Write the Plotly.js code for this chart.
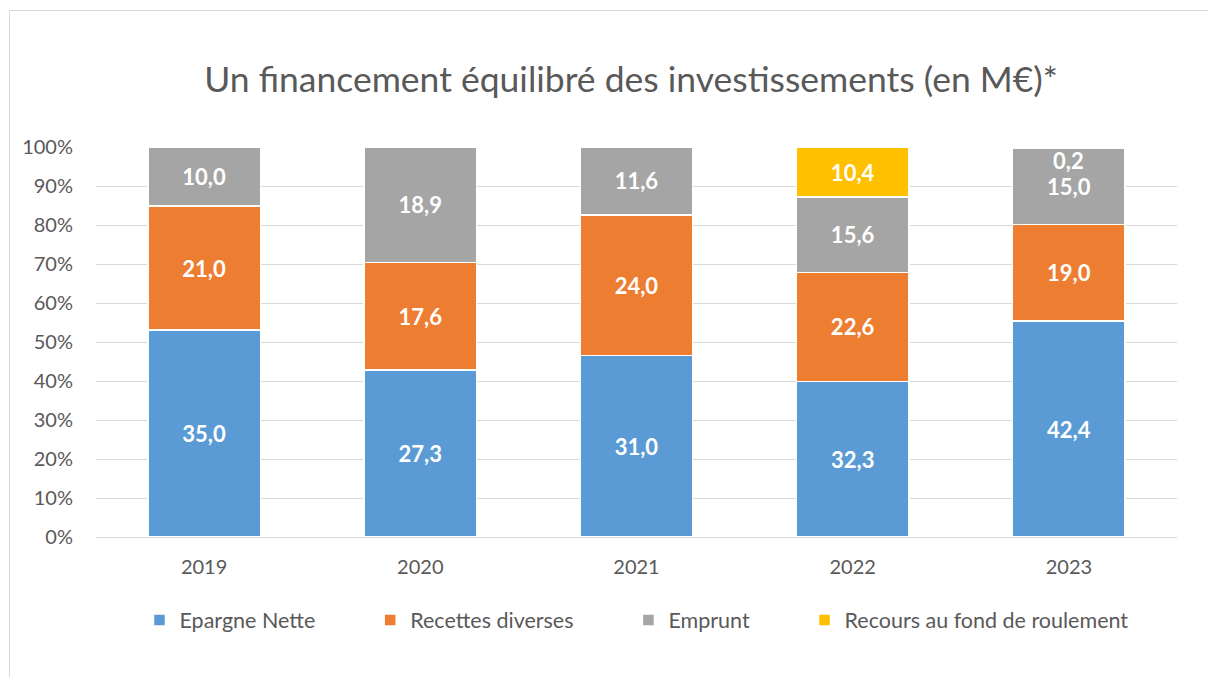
<!DOCTYPE html>
<html>
<head>
<meta charset="utf-8">
<script src="https://cdn.plot.ly/plotly-3.0.1.min.js"></script>
<style>
html,body{margin:0;padding:0;background:#fff;overflow:hidden;}
#frame{position:absolute;left:9px;top:10px;width:1300px;height:800px;border:1px solid #d9d9d9;box-sizing:border-box;}
#chart{position:absolute;left:0;top:0;width:1208px;height:677px;}
#err{position:absolute;left:20px;top:20px;color:red;font:12px monospace;white-space:pre;z-index:10}
</style>
</head>
<body>
<div id="frame"></div>
<div id="chart"></div>
<div id="err"></div>
<script>
const out = document.getElementById('err');
window.onerror = (m) => { out.textContent += 'ERR ' + m + '\n'; };

const years = ['2019', '2020', '2021', '2022', '2023'];
const epargneNette = [35.0, 27.3, 31.0, 32.3, 42.4];
const recettesDiverses = [21.0, 17.6, 24.0, 22.6, 19.0];
const emprunt = [10.0, 18.9, 11.6, 15.6, 15.0];
const recoursFondRoulement = [0, 0, 0, 10.4, 0.2];
const seriesNames = ['Epargne Nette', 'Recettes diverses', 'Emprunt', 'Recours au fond de roulement'];
const seriesColors = ['#5B9BD5', '#ED7D31', '#A5A5A5', '#FFC000'];

const fmt = v => v.toFixed(1).replace('.', ',');
const FONT = 'Lato, "Open Sans", sans-serif';
const PAD = '\u2007\u2007\u2007\u2007';

try {
const allSeries = [epargneNette, recettesDiverses, emprunt, recoursFondRoulement];
const traces = allSeries.map((vals, i) => ({
    type: 'bar',
    name: seriesNames[i] + (i < allSeries.length - 1 ? PAD : ''),
    x: years,
    y: vals,
    text: vals.map(v => (v < 1 ? '' : '<b>' + fmt(v) + '</b>')),
    textposition: 'inside',
    insidetextanchor: 'middle',
    textfont: {family: FONT, size: 22, color: '#ffffff'},
    marker: {color: seriesColors[i], line: {color: '#ffffff', width: 1.5}},
    hoverinfo: 'none'
}));

const annotations = [];
recoursFondRoulement.forEach((v, j) => {
  if (v > 0 && v < 1) {
    annotations.push({
      x: j, y: 100, xref: 'x', yref: 'y',
      yanchor: 'top', yshift: 2,
      text: '<b>' + fmt(v) + '</b>', showarrow: false,
      font: {family: FONT, size: 22, color: '#ffffff'}
    });
  }
});

const layout = {
  width: 1208, height: 677,
  paper_bgcolor: 'rgba(0,0,0,0)', plot_bgcolor: 'rgba(0,0,0,0)',
  barmode: 'stack', barnorm: 'percent', bargap: 0.48,
  margin: {l: 96, r: 31, t: 147, b: 140},
  title: {text: 'Un financement équilibré des investissements (en M€)*',
          font: {family: FONT, size: 35.5, color: '#595959'},
          x: 0.5224, xanchor: 'center', y: 0.882, yanchor: 'middle'},
  xaxis: {type: 'category', showline: true, linecolor: '#d9d9d9', linewidth: 1,
          ticks: '', ticklabelstandoff: 12,
          tickfont: {family: FONT, size: 20, color: '#595959'}},
  yaxis: {range: [0, 100], dtick: 10, ticksuffix: '%', showgrid: true, gridcolor: '#d9d9d9',
          zeroline: false, ticks: '', ticklabelstandoff: 22,
          tickfont: {family: FONT, size: 20, color: '#595959'}},
  legend: {orientation: 'h', x: 0.5, xanchor: 'center', y: -0.213, yanchor: 'middle',
           font: {family: FONT, size: 21.5, color: '#595959'}, traceorder: 'normal'},
  annotations: annotations,
  showlegend: true
};

Plotly.newPlot('chart', traces, layout, {displayModeBar: false})
  .catch(e => { out.textContent += 'P ' + e + '\n'; });
} catch (e) { out.textContent += 'C ' + e.stack + '\n'; }
</script>
</body>
</html>
